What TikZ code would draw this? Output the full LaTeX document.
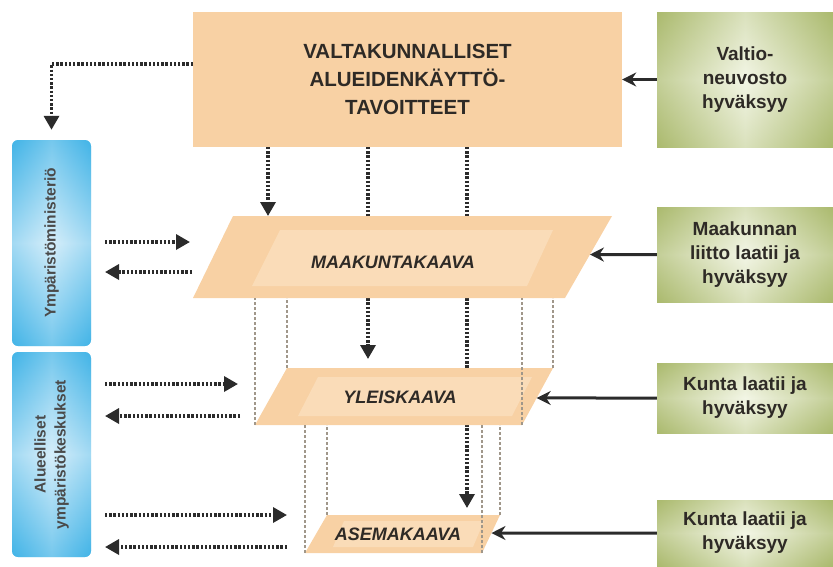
\documentclass[tikz,border=0pt]{standalone}
\usepackage{fontspec}
\setmainfont{Liberation Sans}
\usetikzlibrary{arrows.meta,calc}

\definecolor{kaavaorange}{HTML}{F8D1A4}
\definecolor{kaavalight}{HTML}{FADCB8}
\definecolor{vihrea}{HTML}{ABBA6E}
\definecolor{vihrealight}{HTML}{F3F6E6}
\definecolor{sininen}{HTML}{42B4E7}
\definecolor{sininenlight}{HTML}{D6EEFA}
\definecolor{nuoli}{HTML}{2B2B2B}
\definecolor{teksti}{HTML}{2E2A26}
\definecolor{sinitext}{HTML}{4A4A4A}
\definecolor{apuviiva}{HTML}{A0978A}

\tikzset{
  ylabox/.style={fill=kaavaorange, minimum width=429pt, minimum height=135pt, inner sep=0pt,
    align=center, text=teksti, font=\fontsize{20.5}{28}\selectfont\bfseries},
  vihreabox/.style={minimum width=176pt, inner sep=0pt, align=center, text=teksti,
    font=\fontsize{19}{24}\selectfont\bfseries,
    path picture={
      \shade[left color=vihrea, right color=vihrea, middle color=vihrealight]
        (path picture bounding box.south west) rectangle (path picture bounding box.north east);
      \shade[top color=vihrea, bottom color=vihrea, middle color=vihrealight, opacity=.35]
        (path picture bounding box.south west) rectangle (path picture bounding box.north east);}},
  sinibox/.style={rounded corners=6pt, minimum height=79pt, inner sep=0pt, rotate=90, align=center,
    text=sinitext, font=\fontsize{15.5}{20}\selectfont\bfseries,
    path picture={
      \shade[top color=sininen, bottom color=sininen, middle color=sininenlight]
        (path picture bounding box.south west) rectangle (path picture bounding box.north east);
      \shade[left color=sininen, right color=sininen, middle color=sininenlight, opacity=.35]
        (path picture bounding box.south west) rectangle (path picture bounding box.north east);}},
  kaava/.style={fill=kaavaorange},
  kaavasisa/.style={fill=kaavalight},
  kaavateksti/.style={inner sep=0pt, text=teksti, font=\fontsize{18}{20}\selectfont\bfseries\itshape},
  pisteet/.style={line width=3.3pt, dash pattern=on 2.4pt off 1.8pt, color=nuoli,
    -{Triangle[length=14pt,width=15pt]}},
  apuviiva/.style={line width=1.3pt, dash pattern=on 3pt off 2pt, color=apuviiva},
  hyvaksyy/.style={line width=3pt, color=nuoli, -{Stealth[length=14pt,width=14pt]}}
}

\begin{document}
\begin{tikzpicture}[x=1pt,y=-1pt]
    %%%%% START %%%%%
    \useasboundingbox (0,0) rectangle (833,566);

    % plan corners
    \coordinate (mk-tl) at (233,216); \coordinate (mk-tr) at (612,216);
    \coordinate (mk-br) at (565,298); \coordinate (mk-bl) at (193,298);
    \coordinate (yl-tl) at (287,368); \coordinate (yl-tr) at (553,368);
    \coordinate (yl-br) at (522,425); \coordinate (yl-bl) at (255,425);
    \coordinate (as-tl) at (327,515); \coordinate (as-tr) at (500,515);
    \coordinate (as-br) at (482,553); \coordinate (as-bl) at (305,553);

    \node[ylabox] (vat) at (407.5,79.5) {VALTAKUNNALLISET\\ALUEIDENKÄYTTÖ-\\TAVOITTEET};

    \node[vihreabox, minimum height=135pt] (valtio) at (745,79.5) {Valtio-\\neuvosto\\hyväksyy};
    \node[vihreabox, minimum height=95pt] (liitto) at (745,254.5) {Maakunnan\\liitto laatii ja\\hyväksyy};
    \node[vihreabox, minimum height=70pt] (kunta1) at (745,398) {Kunta laatii ja\\hyväksyy};
    \node[vihreabox, minimum height=66pt] (kunta2) at (745,533) {Kunta laatii ja\\hyväksyy};

    \node[sinibox, minimum width=206pt] (ymp) at (51.5,243) {Ympäristöministeriö};
    \node[sinibox, minimum width=205pt] (alue) at (51.5,454.5) {Alueelliset\\ympäristökeskukset};

    % dotted lines down from the top box
    \coordinate (v1) at (268,147);
    \coordinate (v2) at (368,147);
    \coordinate (v3) at (467,147);
    \draw[pisteet] (v1) -- (v1 |- mk-tl);
    \draw[pisteet, shorten >=9pt] (v2) -- (v2 |- yl-tl);
    \draw[pisteet, shorten >=7pt] (v3) -- (v3 |- as-tl);

    \coordinate (vat-l) at (193,64);
    \draw[pisteet, shorten >=10pt] (vat-l) -| (ymp.east);

    % plans
    \fill[kaava] (mk-tl) -- (mk-tr) -- (mk-br) -- (mk-bl) -- cycle;
    \fill[kaavasisa] (280,230) -- (553,230) -- (527,286) -- (252,286) -- cycle;
    \node[kaavateksti] (mk) at (393,262) {MAAKUNTAKAAVA};

    \fill[kaava] (yl-tl) -- (yl-tr) -- (yl-br) -- (yl-bl) -- cycle;
    \fill[kaavasisa] (318,377) -- (532,377) -- (512,416) -- (298,416) -- cycle;
    \node[kaavateksti] (yl) at (400,397) {YLEISKAAVA};

    \fill[kaava] (as-tl) -- (as-tr) -- (as-br) -- (as-bl) -- cycle;
    \fill[kaavasisa] (344,521) -- (484,521) -- (473,547) -- (333,547) -- cycle;
    \node[kaavateksti] (as) at (398,534) {ASEMAKAAVA};

    % projection lines
    \draw[apuviiva] (yl-bl) -- (yl-bl |- mk-bl);
    \draw[apuviiva] (yl-tl) -- (yl-tl |- mk-bl);
    \draw[apuviiva] (yl-tr) -- (yl-tr |- mk-br);
    \draw[apuviiva] (yl-br) -- (yl-br |- mk-br);
    \draw[apuviiva] (as-bl) -- (as-bl |- yl-bl);
    \draw[apuviiva] (as-tl) -- (as-tl |- yl-bl);
    \draw[apuviiva] (as-tr) -- (as-tr |- yl-br);
    \draw[apuviiva] (as-br) -- (as-br |- yl-br);

    % to and from the left
    \coordinate (mkv-a) at (105,242); \coordinate (mkv-b) at (190,242);
    \coordinate (mkp-a) at (192,272); \coordinate (mkp-b) at (105,272);
    \coordinate (ylv-a) at (105,384); \coordinate (ylv-b) at (238,384);
    \coordinate (ylp-a) at (240,416); \coordinate (ylp-b) at (105,416);
    \coordinate (asv-a) at (105,515); \coordinate (asv-b) at (287,515);
    \coordinate (asp-a) at (287,547); \coordinate (asp-b) at (105,547);
    \draw[pisteet] (mkv-a) -- (mkv-b);
    \draw[pisteet] (mkp-a) -- (mkp-b);
    \draw[pisteet] (ylv-a) -- (ylv-b);
    \draw[pisteet] (ylp-a) -- (ylp-b);
    \draw[pisteet] (asv-a) -- (asv-b);
    \draw[pisteet] (asp-a) -- (asp-b);

    % approvals
    \coordinate (mk-e) at ($(mk-tr)!0.47!(mk-br)$);
    \coordinate (yl-e) at ($(yl-tr)!0.526!(yl-br)$);
    \coordinate (as-e) at ($(as-tr)!0.474!(as-br)$);
    \draw[hyvaksyy] (valtio.west) -- (vat.east);
    \draw[hyvaksyy] (liitto.west) -- (mk-e);
    \draw[hyvaksyy] (kunta1.west) -- (yl-e);
    \draw[hyvaksyy] (kunta2.west) -- (as-e);

    %%%%% END %%%%%
\end{tikzpicture}
\end{document}
